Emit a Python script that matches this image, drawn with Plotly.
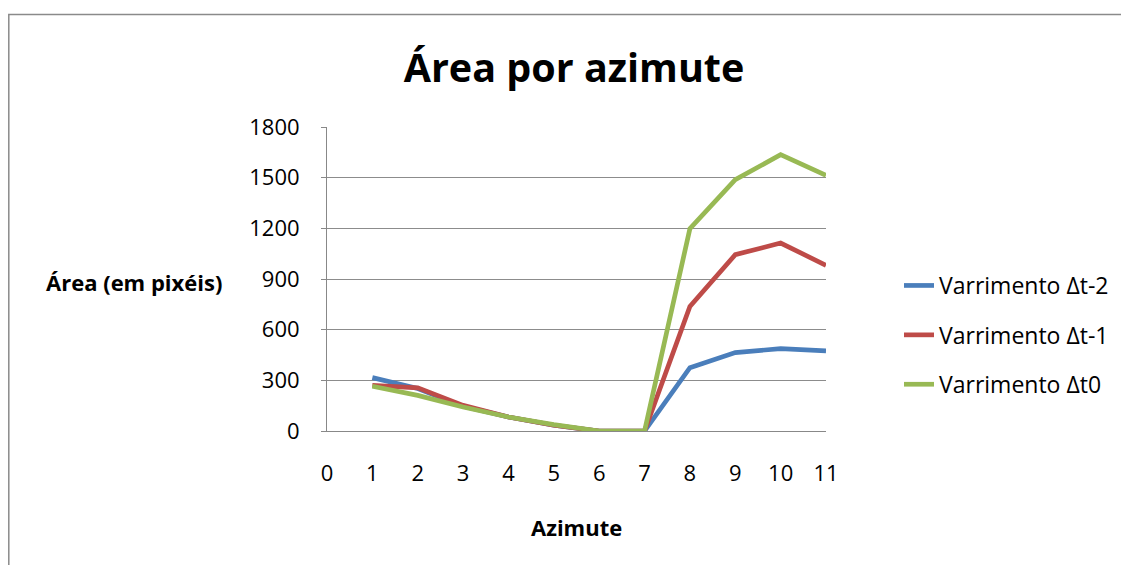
import plotly.graph_objects as go

azimute = [1, 2, 3, 4, 5, 6, 7, 8, 9, 10, 11]
varr_t2 = [316, 252, 146, 83, 34, 0, 0, 375, 464, 488, 474]
varr_t1 = [270, 255, 152, 83, 34, 0, 0, 738, 1044, 1113, 981]
varr_t0 = [265, 211, 142, 83, 38, 0, 0, 1198, 1488, 1636, 1514]
series_names = ["Varrimento Δt-2", "Varrimento Δt-1", "Varrimento Δt0"]
colors = ["#4A7EBB", "#BE4B48", "#98B954"]
x_ticks = list(range(0, 12))
y_ticks = [0, 300, 600, 900, 1200, 1500, 1800]

FONT = "Open Sans"

fig = go.Figure()
for i, (name, vals) in enumerate(zip(series_names, [varr_t2, varr_t1, varr_t0])):
    fig.add_trace(go.Scatter(
        x=azimute, y=vals, mode="lines", name=name,
        line=dict(color=colors[i], width=4.7),
        legendgroup=f"g{i}",
    ))

# page is offset by 8px (body margin); work in page coordinates
OFF = 8
W, H = 1121, 557
PL, PR, PT, PB = 327, 826, 127, 431  # plot area in page coords
L = PL - OFF
R = W - (PR - OFF)
T = PT - OFF
B = H - (PB - OFF)
pw, ph = W - L - R, H - T - B

def px_to_paper_x(px):
    return (px - PL) / pw

def px_to_paper_y(py):
    return (PB - py) / ph

fig.update_layout(
    width=W, height=H,
    margin=dict(l=L, r=R, t=T, b=B, autoexpand=False),
    paper_bgcolor="white", plot_bgcolor="white",
    font=dict(family=FONT, size=22, color="black"),
    title=dict(text="<b>Área por azimute</b>", x=(574 - OFF) / W, xanchor="center",
               y=1 - (68 - OFF) / H, yanchor="middle", font=dict(size=39.5, family=FONT)),
    showlegend=True,
    legend=dict(x=px_to_paper_x(899), y=px_to_paper_y(264), xanchor="left", yanchor="top",
                font=dict(size=23, family=FONT), tracegroupgap=16.5, bgcolor="rgba(0,0,0,0)"),
    xaxis=dict(range=[0, 11], tickmode="array", tickvals=x_ticks,
               showgrid=False, zeroline=False, showline=True, linecolor="#888888", linewidth=1,
               ticks="", ticklabelstandoff=23, tickfont=dict(size=22), fixedrange=True),
    yaxis=dict(range=[0, 1800], tickmode="array", tickvals=y_ticks,
               showgrid=True, gridcolor="#8c8c8c", gridwidth=1.3, zeroline=False,
               showline=True, linecolor="#888888", linewidth=1,
               ticks="outside", ticklen=5, tickcolor="#888888", ticklabelstandoff=17,
               tickfont=dict(size=22), fixedrange=True),
    annotations=[
        dict(text="<b>Área (em pixéis)</b>", x=px_to_paper_x(134), y=px_to_paper_y(282),
             xref="paper", yref="paper", xanchor="center", yanchor="middle",
             showarrow=False, font=dict(size=22, family=FONT)),
        dict(text="<b>Azimute</b>", x=px_to_paper_x(576), y=px_to_paper_y(527),
             xref="paper", yref="paper", xanchor="center", yanchor="middle",
             showarrow=False, font=dict(size=22, family=FONT)),
    ],
    shapes=[
        dict(type="rect", xref="paper", yref="paper",
             x0=px_to_paper_x(OFF + 0.8), x1=px_to_paper_x(1160),
             y0=px_to_paper_y(600), y1=px_to_paper_y(14.5),
             line=dict(color="#8a8a8a", width=1.5), fillcolor="rgba(0,0,0,0)", layer="below"),
    ],
)

fig.write_html("out.html")
